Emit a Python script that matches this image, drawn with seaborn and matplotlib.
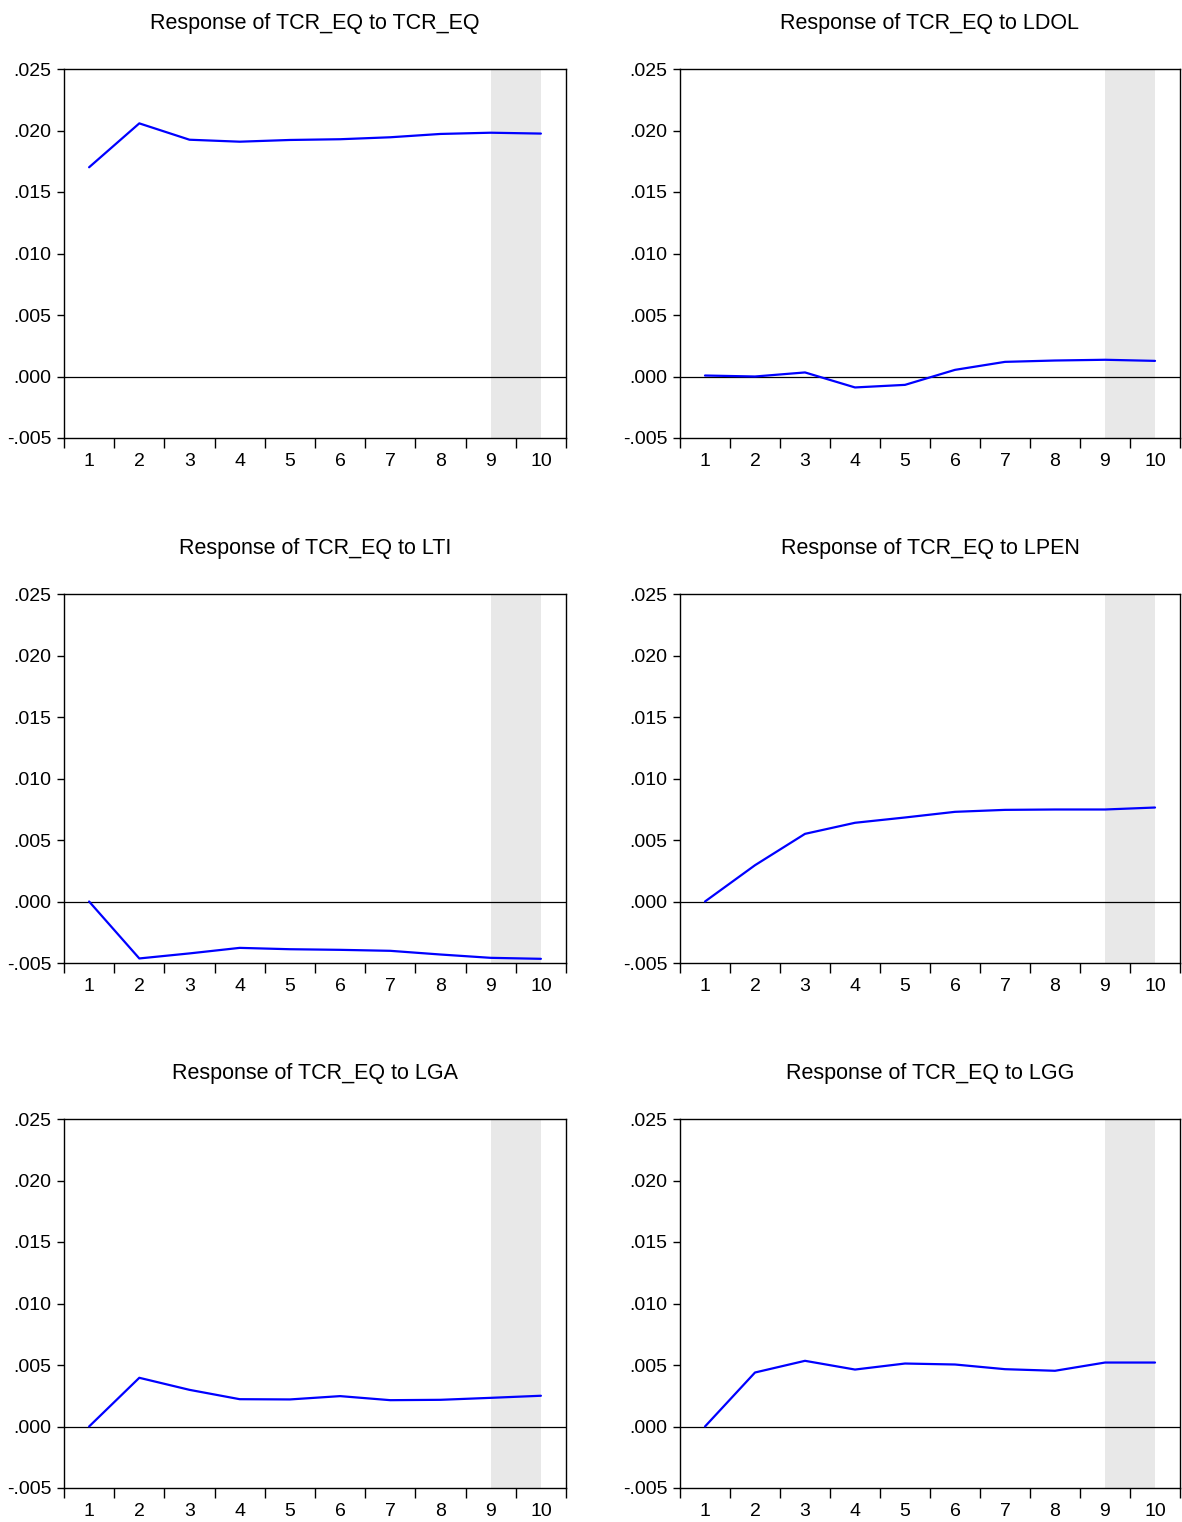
import matplotlib
matplotlib.use("Agg")
import matplotlib.pyplot as plt
import pandas as pd
import seaborn as sns

# impulse response data (periods 1..10)
periods = [1, 2, 3, 4, 5, 6, 7, 8, 9, 10]
shocks = ["TCR_EQ", "LDOL", "LTI", "LPEN", "LGA", "LGG"]

resp_tcr_eq = [0.01701, 0.02058, 0.01925, 0.01909, 0.01923, 0.01929, 0.01945, 0.01972, 0.01982, 0.01975]
resp_ldol = [0.00008, 0.0, 0.00033, -0.00089, -0.00068, 0.00054, 0.00119, 0.00130, 0.00136, 0.00127]
resp_lti = [0.0, -0.00463, -0.00422, -0.00377, -0.00388, -0.00393, -0.00401, -0.00431, -0.00458, -0.00466]
resp_lpen = [0.0, 0.00295, 0.00550, 0.00640, 0.00683, 0.00729, 0.00745, 0.00748, 0.00748, 0.00764]
resp_lga = [0.0, 0.00396, 0.00298, 0.00222, 0.00220, 0.00247, 0.00214, 0.00217, 0.00233, 0.00250]
resp_lgg = [0.0, 0.00439, 0.00534, 0.00463, 0.00512, 0.00504, 0.00466, 0.00453, 0.00520, 0.00520]

responses = [resp_tcr_eq, resp_ldol, resp_lti, resp_lpen, resp_lga, resp_lgg]

y_ticks = [-0.005, 0.000, 0.005, 0.010, 0.015, 0.020, 0.025]
y_tick_labels = ["-.005", ".000", ".005", ".010", ".015", ".020", ".025"]
shade_start, shade_end = 9, 10

rows = []
for shock, vals in zip(shocks, responses):
    for p, v in zip(periods, vals):
        rows.append({"Shock": shock, "Period": p, "Response": v})
df = pd.DataFrame(rows)

sns.set_style("white")
plt.rcParams["font.family"] = ["Liberation Sans", "DejaVu Sans"]
plt.rcParams["text.color"] = "black"
plt.rcParams["xtick.color"] = "black"
plt.rcParams["ytick.color"] = "black"

fig = plt.figure(figsize=(11.82, 15.22), dpi=100)

W, H = 1182.0, 1522.0
col_left = [64, 680]
col_width = [502, 500]
row_bottom = [438, 963, 1488]
ax_height = 369

for i, shock in enumerate(shocks):
    r, c = divmod(i, 2)
    ax = fig.add_axes([col_left[c] / W, 1 - row_bottom[r] / H, col_width[c] / W, ax_height / H])
    sub = df[df["Shock"] == shock]
    ax.axvspan(shade_start, shade_end, color="#e8e8e8", lw=0, zorder=0)
    ax.axhline(0, color="black", lw=0.9, zorder=1)
    sns.lineplot(data=sub, x="Period", y="Response", color="#0000ff", lw=1.6, ax=ax, zorder=2)

    ax.set_xlim(0.5, 10.5)
    ax.set_ylim(-0.005, 0.025)
    ax.set_xticks(periods)
    ax.set_xticklabels([str(p) for p in periods])
    ax.set_xticks([p - 0.5 for p in periods] + [10.5], minor=True)
    ax.tick_params(axis="x", which="major", length=0, pad=11, labelsize=14)
    ax.tick_params(axis="x", which="minor", length=7, width=1, direction="out", bottom=True)
    ax.set_yticks(y_ticks)
    ax.set_yticklabels(y_tick_labels)
    ax.tick_params(axis="y", which="major", length=5, width=1, direction="out",
                   left=True, pad=4, labelsize=14)
    for s in ax.spines.values():
        s.set_color("black")
        s.set_linewidth(1.0)
    ax.set_xlabel("")
    ax.set_ylabel("")
    ax.set_title(f"Response of TCR_EQ to {shock}", fontsize=15.5, pad=29, color="black")

fig.savefig("out.png", dpi=100)
plt.close(fig)
